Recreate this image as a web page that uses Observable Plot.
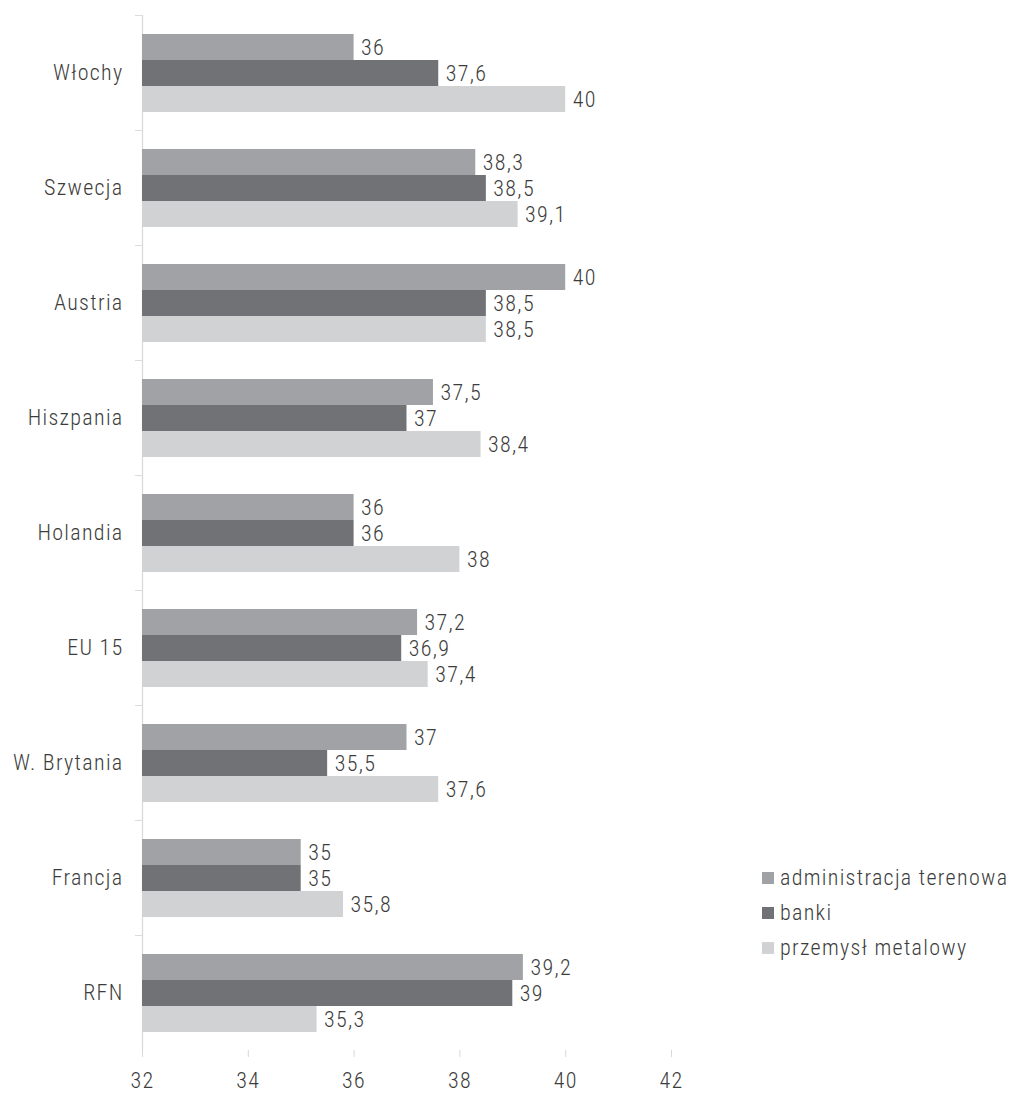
<!DOCTYPE html>
<html>
<head>
<meta charset="utf-8">
<script src="https://cdn.jsdelivr.net/npm/d3@7"></script>
<script src="https://cdn.jsdelivr.net/npm/@observablehq/plot@0.6"></script>
<style>
  html, body { margin: 0; padding: 0; background: #fff; }
  #wrap { position: relative; width: 1021px; height: 1098px; font-family: "Roboto", sans-serif; font-stretch: 75%; font-weight: 350; }
  #legend { position: absolute; left: 762px; top: 860px; font-size: 22px; color: #3c3c3c; letter-spacing: 1.3px; font-stretch: 75%; font-weight: 350; }
  #legend .row { height: 35px; display: flex; align-items: center; }
  #legend .sw { width: 12px; height: 12px; margin-right: 6px; }
  svg text { letter-spacing: 1.3px; font-stretch: 75%; font-weight: 350; }
</style>
</head>
<body>
<div id="wrap"><div id="chart"></div><div id="legend"></div></div>
<script>
const countries = ["Włochy", "Szwecja", "Austria", "Hiszpania", "Holandia", "EU 15", "W. Brytania", "Francja", "RFN"];
const seriesNames = ["administracja terenowa", "banki", "przemysł metalowy"];
const administracja = [36, 38.3, 40, 37.5, 36, 37.2, 37, 35, 39.2];
const banki = [37.6, 38.5, 38.5, 37, 36, 36.9, 35.5, 35, 39];
const przemysl = [40, 39.1, 38.5, 38.4, 38, 37.4, 37.6, 35.8, 35.3];
const seriesColors = ["#a1a2a5", "#717276", "#d1d2d4"];
const xTicks = [32, 34, 36, 38, 40, 42];
const baseline = 32;

const seriesValues = [administracja, banki, przemysl];
const data = [];
countries.forEach((c, i) => {
  seriesNames.forEach((s, j) => data.push({country: c, series: s, value: seriesValues[j][i]}));
});
const fmt = v => String(v).replace(".", ",");

const W = 1021, mL = 142, mR = 350;
const chart = Plot.plot({
  width: W,
  height: 1098,
  marginLeft: mL,
  marginRight: mR,
  marginTop: 12,
  marginBottom: 46,
  style: {fontFamily: '"Roboto", sans-serif', fontSize: "22px", color: "#3c3c3c", background: "#fff"},
  x: {domain: [32, 42], ticks: xTicks},
  y: {domain: seriesNames, paddingInner: 0, paddingOuter: 0.7, axis: null},
  fy: {domain: countries, padding: 0},
  color: {domain: seriesNames, range: seriesColors},
  marks: [
    Plot.ruleX([baseline], {stroke: "#d8d8d8", strokeWidth: 1.2}),
    Plot.frame({anchor: "top", stroke: "#dcdcdc", insetLeft: -7, insetRight: W - mL - mR}),
    Plot.barX(data, {x1: baseline, x2: "value", y: "series", fy: "country", fill: "series"}),
    Plot.text(data, {x: "value", y: "series", fy: "country", text: d => fmt(d.value), textAnchor: "start", dx: 7, fill: "#3c3c3c", fontSize: 22}),
    Plot.axisFy({anchor: "left", tickSize: 0, tickPadding: 19, fontSize: 22, label: null, fill: "#3c3c3c"}),
    Plot.axisX({anchor: "bottom", ticks: xTicks, tickSize: 7, tickPadding: 15, stroke: "#d8d8d8", fill: "#3c3c3c", fontSize: 22, label: null, tickFormat: d => String(d)})
  ]
});
document.getElementById("chart").appendChild(chart);

const legend = document.getElementById("legend");
seriesNames.forEach((s, j) => {
  const row = document.createElement("div");
  row.className = "row";
  const sw = document.createElement("span");
  sw.className = "sw";
  sw.style.background = seriesColors[j];
  const t = document.createElement("span");
  t.textContent = s;
  row.appendChild(sw);
  row.appendChild(t);
  legend.appendChild(row);
});
</script>
</body>
</html>
